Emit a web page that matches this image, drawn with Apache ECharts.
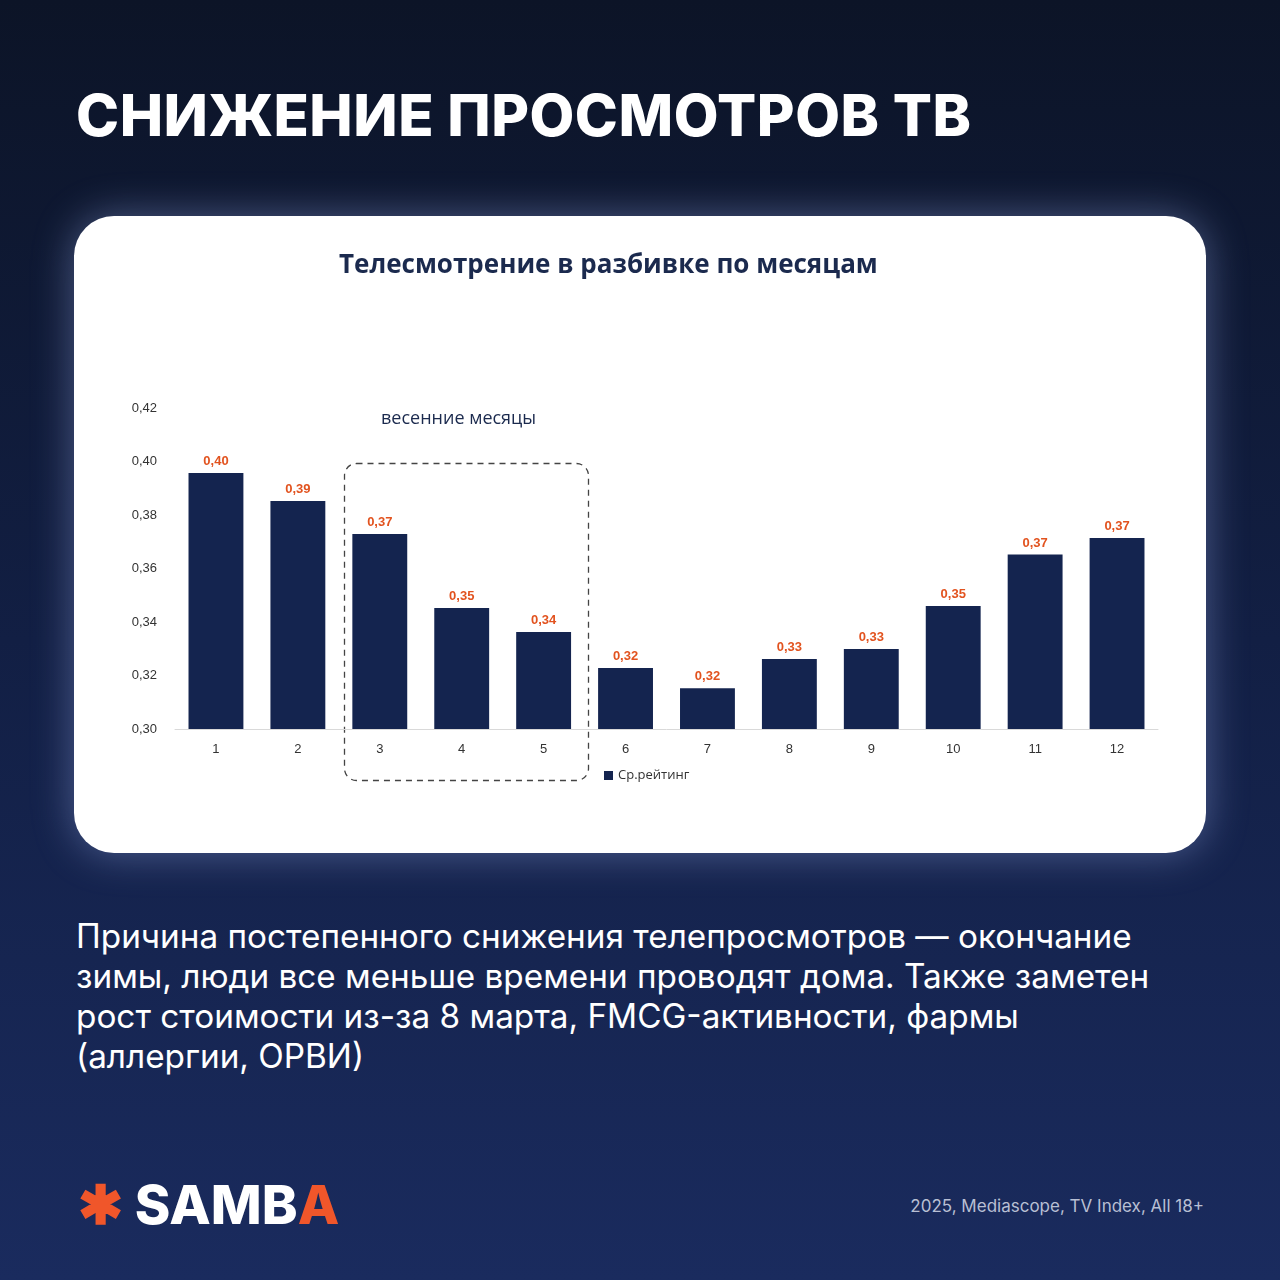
<!DOCTYPE html>
<html><head><meta charset="utf-8">
<script src="https://cdn.jsdelivr.net/npm/echarts@6/dist/echarts.min.js"></script>
<style>
html,body{margin:0;padding:0;width:1280px;height:1280px;overflow:hidden;font-family:Inter,"Noto Sans",sans-serif}
body{background:linear-gradient(180deg,#0c1427 0%,#121f44 50%,#1a2b5e 100%);position:relative}
#title{position:absolute;left:76px;top:80px;color:#fff;font-size:58px;font-weight:800;letter-spacing:0.5px}
#card{position:absolute;left:74px;top:216px;width:1132px;height:637px;background:#fff;border-radius:40px;box-shadow:0 0 40px rgba(150,170,230,0.45)}
#chart{position:absolute;left:74px;top:216px;width:1132px;height:637px}
#body{position:absolute;left:76px;top:916px;width:1100px;color:#fff;font-size:33.3px;line-height:40px}
#logo{position:absolute;left:78px;top:1172px;font-size:54px;font-weight:800;color:#fff;font-family:Inter,sans-serif}
#foot{position:absolute;right:76px;top:1196px;color:#b8bfd3;font-size:17px}
</style></head><body>
<div id="title">СНИЖЕНИЕ ПРОСМОТРОВ ТВ</div>
<div id="card"></div>
<div id="chart"></div>
<div id="body">Причина постепенного снижения телепросмотров — окончание зимы, люди все меньше времени проводят дома. Также заметен рост стоимости из-за 8 марта, FMCG-активности, фармы (аллергии, ОРВИ)</div>
<div id="logo"><span style="color:#f0562a">✱</span> SAMB<span style="color:#f0562a">A</span></div>
<div id="foot">2025, Mediascope, TV Index, All 18+</div>
<script>
const categories=['1','2','3','4','5','6','7','8','9','10','11','12'];
const values=[0.3957,0.3852,0.3729,0.3452,0.3363,0.3228,0.3152,0.3262,0.3299,0.346,0.3652,0.3714];
const yTicks=[0.30,0.32,0.34,0.36,0.38,0.40,0.42];
const c=echarts.init(document.getElementById('chart'));
c.setOption({
 animation:false,
 title:{text:'Телесмотрение в разбивке по месяцам',left:260,top:32,textStyle:{fontSize:26,fontWeight:'bold',color:'#1b2a4e',fontFamily:'Open Sans'}},
 legend:{bottom:66,left:525,itemWidth:9,itemHeight:9,icon:'rect',textStyle:{fontSize:13,color:'#333',fontFamily:'Open Sans'},data:['Ср.рейтинг']},
 grid:{left:101,right:48,top:192,bottom:124},
 xAxis:{type:'category',data:categories,axisLine:{lineStyle:{color:'#d9d9d9'}},axisTick:{show:false},axisLabel:{color:'#333',fontSize:13,margin:14}},
 yAxis:{type:'value',min:0.30,max:0.42,interval:0.02,splitLine:{show:false},axisLabel:{color:'#333',fontSize:13,margin:18,formatter:v=>v.toFixed(2).replace('.',',')}},
 series:[{name:'Ср.рейтинг',type:'bar',data:values,barCategoryGap:'33%',itemStyle:{color:'#14244f'},
  label:{show:true,position:'top',color:'#e2531f',fontWeight:'bold',fontSize:13,formatter:p=>p.value.toFixed(2).replace('.',',')}}],
 graphic:[
  {type:'rect',left:268,top:245,shape:{width:244,height:317,r:12},style:{fill:'none',stroke:'#444',lineWidth:1.3,lineDash:[6,5]}},
  {type:'text',left:307,top:194,style:{text:'весенние месяцы',fontSize:18,fill:'#1b2a4e',fontFamily:'Open Sans'}}
 ]
});
</script></body></html>
